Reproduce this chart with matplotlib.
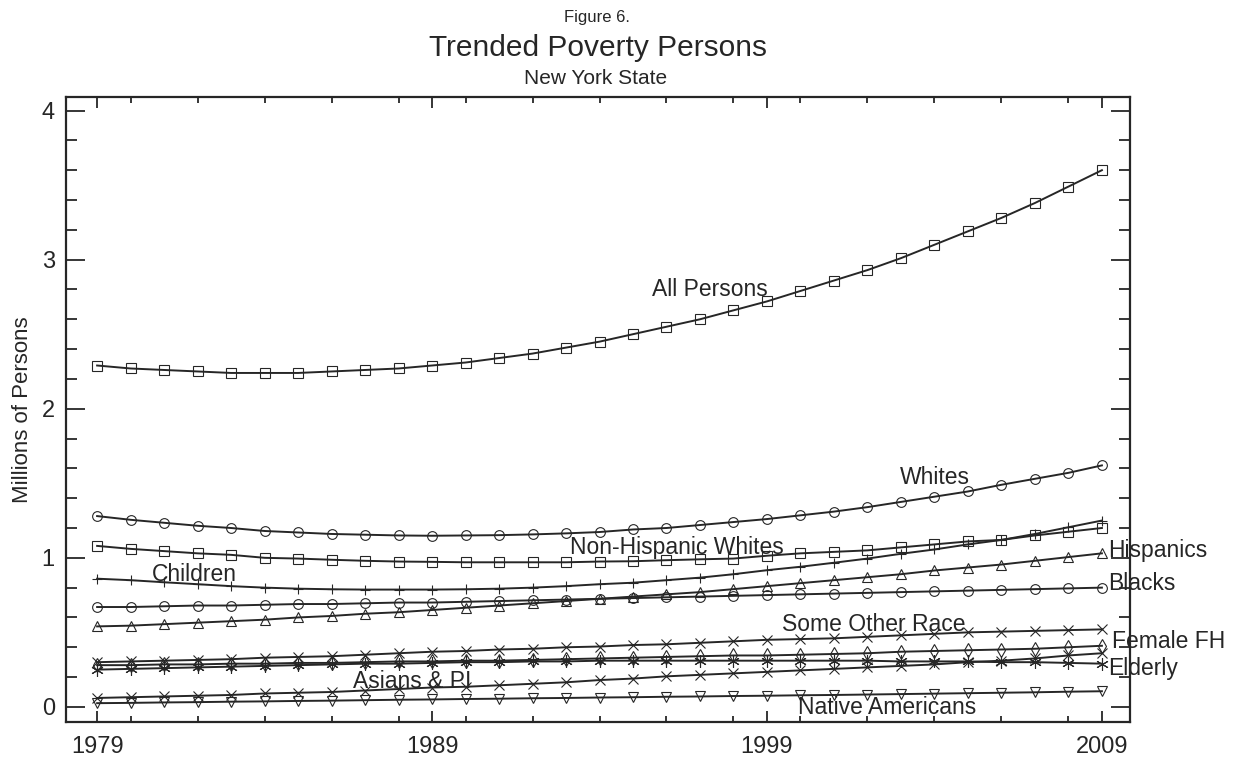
import numpy as np
import matplotlib.pyplot as plt
from matplotlib.ticker import MultipleLocator

plt.rcParams['font.family'] = ['Liberation Sans', 'DejaVu Sans']

years = list(range(1979, 2010))

all_persons = [2.29, 2.27, 2.26, 2.25, 2.24, 2.24, 2.24, 2.25, 2.26, 2.27,
               2.29, 2.31, 2.34, 2.37, 2.41, 2.45, 2.50, 2.55, 2.60, 2.66,
               2.72, 2.79, 2.86, 2.93, 3.01, 3.10, 3.19, 3.28, 3.38, 3.49, 3.60]
whites = [1.28, 1.255, 1.235, 1.215, 1.20, 1.18, 1.17, 1.16, 1.155, 1.15,
          1.148, 1.15, 1.152, 1.157, 1.164, 1.173, 1.19, 1.20, 1.22, 1.24,
          1.26, 1.285, 1.31, 1.34, 1.375, 1.41, 1.445, 1.49, 1.53, 1.57, 1.62]
non_hisp_whites = [1.08, 1.06, 1.045, 1.03, 1.02, 1.00, 0.995, 0.987, 0.98, 0.975,
                   0.973, 0.97, 0.97, 0.97, 0.97, 0.975, 0.977, 0.984, 0.99, 0.995,
                   1.014, 1.03, 1.04, 1.05, 1.07, 1.09, 1.11, 1.12, 1.15, 1.175, 1.20]
children = [0.86, 0.85, 0.836, 0.823, 0.81, 0.80, 0.793, 0.789, 0.787, 0.787,
            0.787, 0.789, 0.793, 0.80, 0.81, 0.823, 0.833, 0.85, 0.867, 0.89,
            0.917, 0.94, 0.967, 0.995, 1.027, 1.056, 1.09, 1.12, 1.16, 1.205, 1.25]
hispanics = [0.54, 0.545, 0.555, 0.565, 0.575, 0.585, 0.60, 0.61, 0.625, 0.635,
             0.65, 0.665, 0.68, 0.695, 0.71, 0.725, 0.74, 0.755, 0.77, 0.79,
             0.81, 0.83, 0.85, 0.87, 0.89, 0.915, 0.935, 0.955, 0.98, 1.005, 1.03]
blacks = [0.67, 0.67, 0.675, 0.68, 0.68, 0.685, 0.69, 0.69, 0.695, 0.70,
          0.70, 0.705, 0.71, 0.715, 0.72, 0.725, 0.73, 0.735, 0.74, 0.745,
          0.75, 0.755, 0.76, 0.765, 0.77, 0.775, 0.78, 0.785, 0.79, 0.795, 0.80]
some_other_race = [0.30, 0.305, 0.31, 0.315, 0.32, 0.33, 0.335, 0.34, 0.35, 0.36,
                   0.37, 0.375, 0.385, 0.39, 0.40, 0.405, 0.415, 0.42, 0.43, 0.44,
                   0.45, 0.455, 0.46, 0.47, 0.48, 0.49, 0.50, 0.505, 0.51, 0.515, 0.52]
female_fh = [0.28, 0.28, 0.285, 0.285, 0.29, 0.29, 0.295, 0.295, 0.30, 0.305,
             0.305, 0.31, 0.31, 0.315, 0.32, 0.325, 0.33, 0.335, 0.34, 0.345,
             0.345, 0.35, 0.355, 0.36, 0.37, 0.375, 0.38, 0.385, 0.39, 0.40, 0.41]
elderly = [0.25, 0.255, 0.26, 0.265, 0.27, 0.275, 0.28, 0.285, 0.29, 0.29,
           0.295, 0.30, 0.30, 0.305, 0.305, 0.31, 0.31, 0.31, 0.31, 0.31,
           0.31, 0.31, 0.31, 0.31, 0.305, 0.305, 0.305, 0.30, 0.30, 0.295, 0.29]
asians_pi = [0.06, 0.065, 0.07, 0.075, 0.08, 0.09, 0.095, 0.10, 0.11, 0.12,
             0.13, 0.135, 0.145, 0.155, 0.165, 0.18, 0.19, 0.205, 0.215, 0.225,
             0.235, 0.245, 0.255, 0.265, 0.275, 0.285, 0.30, 0.31, 0.325, 0.345, 0.36]
native_am = [0.025, 0.027, 0.03, 0.032, 0.035, 0.037, 0.04, 0.042, 0.045, 0.048,
             0.05, 0.053, 0.055, 0.058, 0.06, 0.063, 0.065, 0.068, 0.07, 0.073,
             0.075, 0.078, 0.08, 0.083, 0.086, 0.089, 0.092, 0.095, 0.098, 0.102, 0.105]

asterisk = (6, 2, 0)
series = [
    (all_persons, 's'), (whites, 'o'), (non_hisp_whites, 's'), (children, '+'),
    (hispanics, '^'), (blacks, 'o'), (some_other_race, 'x'), (female_fh, 'd'),
    (elderly, asterisk), (asians_pi, 'x'), (native_am, 'v'),
]

# text, x, y, horizontal alignment
labels = [
    ('All Persons', 1997.3, 2.80, 'center'),
    ('Whites', 2004.0, 1.54, 'center'),
    ('Non-Hispanic Whites', 1996.3, 1.07, 'center'),
    ('Children', 1981.9, 0.885, 'center'),
    ('Hispanics', 2009.2, 1.05, 'left'),
    ('Blacks', 2009.2, 0.825, 'left'),
    ('Some Other Race', 2002.2, 0.55, 'center'),
    ('Female FH', 2009.3, 0.44, 'left'),
    ('Elderly', 2009.2, 0.26, 'left'),
    ('Asians & PI', 1988.4, 0.168, 'center'),
    ('Native Americans', 2002.6, -0.005, 'center'),
]

ink = '#262626'
fig = plt.figure(figsize=(12.33, 7.59), dpi=100)
ax = fig.add_axes([0.0535, 0.049, 0.863, 0.823])

for vals, mk in series:
    ms = 9 if mk == asterisk else 7
    ax.plot(years, vals, color=ink, lw=1.4, marker=mk, ms=ms,
            mfc='none', mec=ink, mew=0.8)

for txt, x, y, ha in labels:
    ax.text(x, y, txt, ha=ha, va='center', fontsize=16.5, color=ink)

ax.set_xlim(1978.07, 2009.84)
ax.set_ylim(-0.10, 4.09)
ax.set_xticks([1979, 1989, 1999, 2009])
ax.xaxis.set_minor_locator(MultipleLocator(2))
ax.yaxis.set_major_locator(MultipleLocator(1))
ax.yaxis.set_minor_locator(MultipleLocator(0.2))
ax.tick_params(axis='both', which='both', direction='in', colors=ink,
               top=True, right=True, labelsize=17, width=1.3)
ax.tick_params(axis='y', which='major', length=14, pad=8)
ax.tick_params(axis='y', which='minor', length=8)
ax.tick_params(axis='x', which='major', length=8, pad=10)
ax.tick_params(axis='x', which='minor', length=4)
for sp in ax.spines.values():
    sp.set_linewidth(1.6)
    sp.set_color(ink)

ax.set_ylabel('Millions of Persons', fontsize=16, color=ink, labelpad=6)

fig.text(0.484, 0.977, 'Figure 6.', ha='center', va='center', fontsize=12, color=ink)
fig.text(0.485, 0.937, 'Trended Poverty Persons', ha='center', va='center',
         fontsize=21.5, color=ink)
fig.text(0.483, 0.896, 'New York State', ha='center', va='center', fontsize=15,
         color=ink)

fig.savefig('out.png', dpi=100, facecolor='white')
